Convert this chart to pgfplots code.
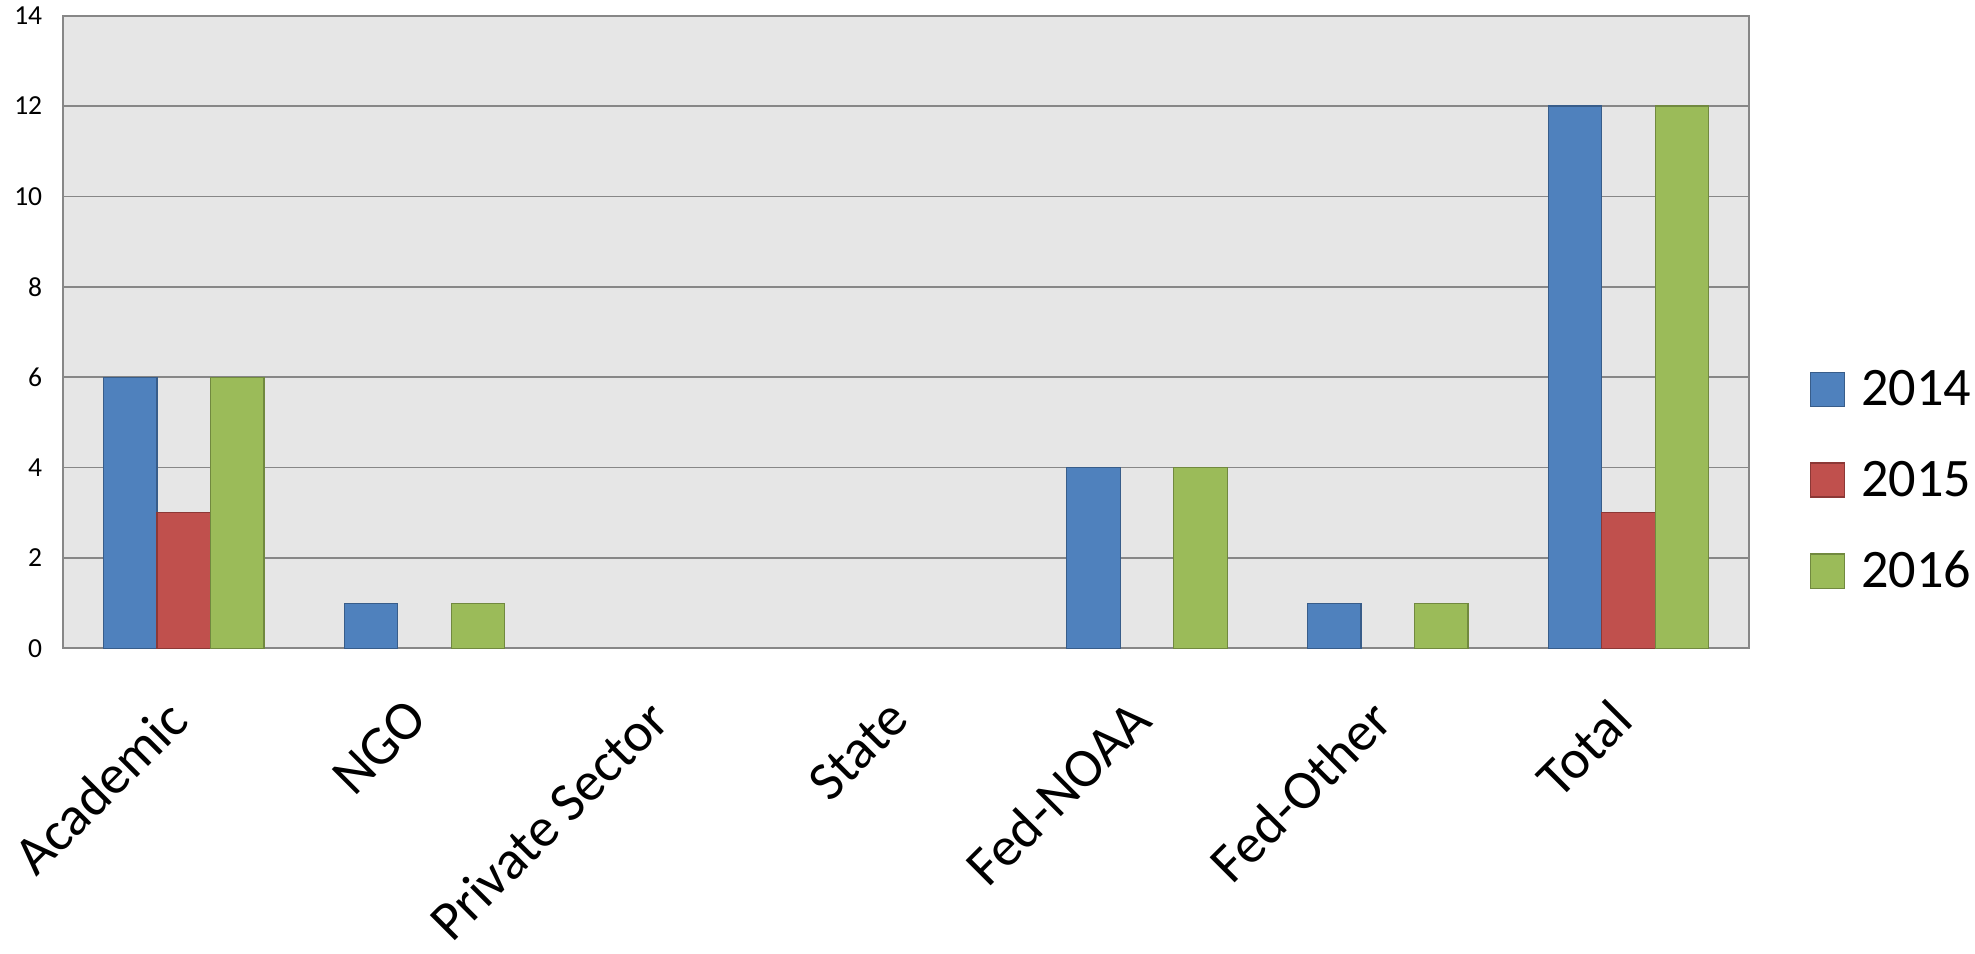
\documentclass[border=0pt]{standalone}
\usepackage{pgfplots}
\pgfplotsset{compat=1.18}
\usepackage{fontspec}
\setmainfont{Carlito}
\definecolor{blueF}{HTML}{4F81BD}
\definecolor{blueD}{HTML}{385D8A}
\definecolor{redF}{HTML}{C0504D}
\definecolor{redD}{HTML}{8C3836}
\definecolor{greenF}{HTML}{9BBB59}
\definecolor{greenD}{HTML}{71893F}
\definecolor{bgGray}{HTML}{E6E6E6}
\definecolor{lineGray}{HTML}{878787}
\begin{document}
\begin{tikzpicture}
  \begin{axis}[
    scale only axis,
    width=839pt, height=315pt,
    xmin=-0.5, xmax=6.5, ymin=0, ymax=14,
    ytick={0,2,...,14},
    xtick={0,...,6},
    xticklabels={Academic,NGO,Private Sector,State,Fed-NOAA,Fed-Other,Total},
    axis background/.style={fill=bgGray},
    ymajorgrids,
    grid style={lineGray, line width=0.75pt},
    axis line style={lineGray, line width=1pt},
    major tick length=0pt,
    ybar=0pt, bar width=0.2222,
    /pgf/number format/assume math mode=true,
    yticklabel style={font=\fontsize{13.7}{16}\selectfont, xshift=-7pt},
    xticklabel style={xshift=-10pt, yshift=-19pt, rotate=45, anchor=north east, font=\fontsize{27.5}{33}\selectfont},
    legend style={at={(axis description cs:1.0357,0.265)}, anchor=west,
      draw=none, fill=none, inner sep=0pt, row sep=22pt,
      font=\fontsize{27}{32}\selectfont, cells={anchor=west},
      /tikz/every odd column/.append style={column sep=6pt}},
    legend image code/.code={\draw[#1] (0pt,-8.5pt) rectangle (17pt,8.5pt);},
  ]
    \addplot[fill=blueF, draw=blueD, line width=0.6pt]
      coordinates {(0,6) (1,1) (4,4) (5,1) (6,12)};
    \addlegendentry{2014}
    \addplot[fill=redF, draw=redD, line width=0.6pt]
      coordinates {(0,3) (6,3)};
    \addlegendentry{2015}
    \addplot[fill=greenF, draw=greenD, line width=0.6pt]
      coordinates {(0,6) (1,1) (4,4) (5,1) (6,12)};
    \addlegendentry{2016}
  \end{axis}
\end{tikzpicture}
\end{document}
